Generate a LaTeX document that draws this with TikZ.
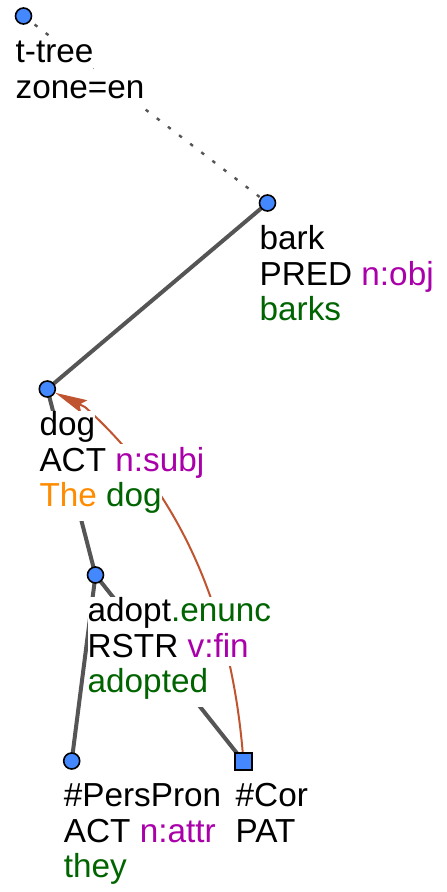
\documentclass[tikz,border=0pt]{standalone}
\usepackage{fontspec}
\setmainfont{Liberation Sans}
\usetikzlibrary{arrows.meta,backgrounds}
\definecolor{nodeblue}{HTML}{4488FF}
\definecolor{edgegray}{HTML}{555555}
\definecolor{corefred}{RGB}{192,84,48}
\definecolor{fmag}{HTML}{AA00AA}
\definecolor{fgreen}{HTML}{006400}
\definecolor{forange}{HTML}{FF8C00}
\begin{document}
\begin{tikzpicture}[x=1pt,y=-1pt,
  tnode/.style={circle,draw=black,line width=1.6pt,fill=nodeblue,minimum size=16pt,inner sep=0pt},
  gnode/.style={rectangle,draw=black,line width=1.6pt,fill=nodeblue,minimum size=17pt,inner sep=0pt},
  lbl/.style={anchor=base west,inner sep=0pt,fill=white,text height=27pt,text depth=8.5pt,font=\fontsize{33.3}{35.5}\selectfont},
  firstlbl/.style={lbl,text height=25pt},
  lastlbl/.style={lbl,text depth=14pt},
  treeedge/.style={draw=edgegray,line width=4pt},
  rootedge/.style={draw=edgegray,line width=2.4pt,dash pattern=on 3.5pt off 10.5pt},
  coref/.style={draw=corefred,line width=2pt,-{Stealth[length=32pt,width=14pt,inset=5pt]}}]
\useasboundingbox (0,0) rectangle (447,892);
% tree nodes
\node[tnode] (root) at (23.5,16) {};
\node[tnode] (bark) at (267.5,203) {};
\node[tnode] (dog) at (47.3,389) {};
\node[tnode] (adopt) at (95.5,575) {};
\node[tnode] (pers) at (71.7,761) {};
\node[gnode] (cor) at (243.5,761.5) {};
\coordinate (corefbend) at (85,407);
% labels
\node[firstlbl] (root1) at ([xshift=-8pt,yshift=-46.5pt]root.center) {t-tree};
\node[lastlbl] (root2) at ([xshift=-8pt,yshift=-82.5pt]root.center) {zone=en};
\node[firstlbl] (bark1) at ([xshift=-8pt,yshift=-46.5pt]bark.center) {bark};
\node[lbl] (bark2) at ([xshift=-8pt,yshift=-82pt]bark.center) {PRED \textcolor{fmag}{n:obj}};
\node[lastlbl] (bark3) at ([xshift=-8pt,yshift=-117.5pt]bark.center) {\textcolor{fgreen}{barks}};
\node[firstlbl] (dog1) at ([xshift=-8pt,yshift=-46.5pt]dog.center) {dog};
\node[lbl] (dog2) at ([xshift=-8pt,yshift=-82pt]dog.center) {ACT \textcolor{fmag}{n:subj}};
\node[lastlbl] (dog3) at ([xshift=-8pt,yshift=-117.5pt]dog.center) {\textcolor{forange}{The} \textcolor{fgreen}{dog}};
\node[firstlbl] (adopt1) at ([xshift=-8pt,yshift=-46.5pt]adopt.center) {adopt\textcolor{fgreen}{.enunc}};
\node[lbl] (adopt2) at ([xshift=-8pt,yshift=-82pt]adopt.center) {RSTR \textcolor{fmag}{v:fin}};
\node[lastlbl] (adopt3) at ([xshift=-8pt,yshift=-117.5pt]adopt.center) {\textcolor{fgreen}{adopted}};
\node[firstlbl] (pers1) at ([xshift=-8pt,yshift=-45.5pt]pers.center) {\#PersPron};
\node[lbl] (pers2) at ([xshift=-8pt,yshift=-81pt]pers.center) {ACT \textcolor{fmag}{n:attr}};
\node[lastlbl] (pers3) at ([xshift=-8pt,yshift=-116.5pt]pers.center) {\textcolor{fgreen}{they}};
\node[firstlbl] (cor1) at ([xshift=-8pt,yshift=-45pt]cor.center) {\#Cor};
\node[lastlbl] (cor2) at ([xshift=-8pt,yshift=-80.5pt]cor.center) {PAT};
% connectors
\begin{scope}[on background layer]
\draw[rootedge] (root.center) -- (bark.center);
\draw[treeedge] (bark.center) -- (dog.center);
\draw[treeedge] (dog.center) -- (adopt.center);
\draw[treeedge] (adopt.center) -- (pers.center);
\draw[treeedge] (adopt.center) -- (cor.center);
\draw[coref] (cor) .. controls (230.1,605.2) and (177.5,490.2) .. (corefbend) -- (dog);
\end{scope}
\end{tikzpicture}
\end{document}
